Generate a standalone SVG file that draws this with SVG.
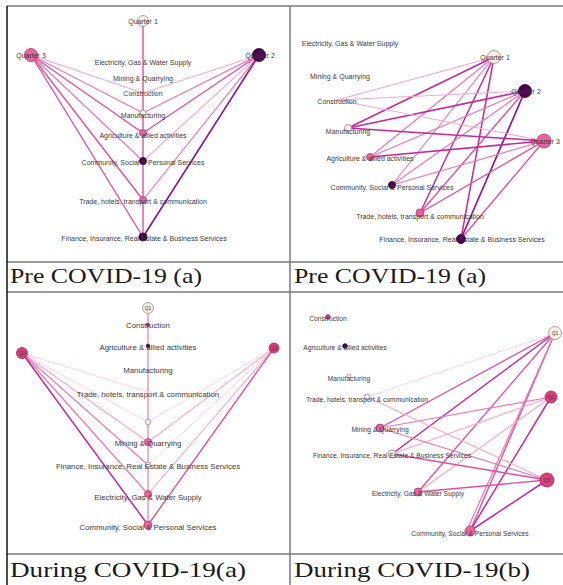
<svg xmlns="http://www.w3.org/2000/svg" width="563" height="585" viewBox="0 0 563 585">
<style>
.lbl{font-family:"Liberation Sans",Arial,sans-serif;fill:#3a3a3a;}
.p1{font-size:7px;text-anchor:middle;}
.p2{font-size:7px;text-anchor:middle;}
.p3{font-size:7.8px;text-anchor:middle;}
.p4{font-size:6.7px;text-anchor:middle;}
.q{font-size:5px;text-anchor:middle;}
.cap{font-family:"Liberation Serif","Times New Roman",serif;font-size:22px;fill:#1a1a1a;}
.e1{stroke:#fbd3e1;stroke-width:1;}
.e2{stroke:#f5a9c8;stroke-width:1.1;}
.e3{stroke:#eb78b1;stroke-width:1.2;}
.e4{stroke:#e0509c;stroke-width:1.4;}
.e5{stroke:#bf2a9f;stroke-width:1.5;}
.e6{stroke:#8a168f;stroke-width:1.7;}
.nL{fill:#fcefe7;stroke:#9a8c88;stroke-width:0.8;}
.nP{fill:#e8649d;stroke:#b03a6c;stroke-width:0.8;}
.nR{fill:#dc3f7c;stroke:#9b2552;stroke-width:0.8;}
.nD{fill:#4e004f;stroke:#2a002a;stroke-width:0.8;}
.grid{stroke:#7a7a7a;stroke-width:1.5;fill:none;}
</style>
<rect x="0" y="0" width="563" height="585" fill="#fff"/>

<!-- table grid -->
<g id="table">
<line class="grid" x1="7" y1="6" x2="563" y2="6"/>
<line class="grid" x1="7" y1="262" x2="563" y2="262"/>
<line class="grid" x1="7" y1="292" x2="563" y2="292"/>
<line class="grid" x1="7" y1="554" x2="563" y2="554"/>
<line class="grid" x1="290" y1="6" x2="290" y2="585"/>
<line x1="7" y1="6" x2="7" y2="585" stroke="#111" stroke-width="1.5"/>
</g>

<!-- ===== Panel 1 ===== -->
<g id="p1-edges" fill="none">
<line class="e4" x1="143" y1="21" x2="143" y2="237"/>
<line class="e2" x1="31" y1="55" x2="143" y2="93"/>
<line class="e3" x1="31" y1="55" x2="143" y2="113"/>
<line class="e4" x1="31" y1="55" x2="143" y2="133"/>
<line class="e3" x1="31" y1="55" x2="143" y2="161"/>
<line class="e4" x1="31" y1="55" x2="143" y2="200"/>
<line class="e4" x1="31" y1="55" x2="143" y2="237"/>
<line class="e2" x1="259" y1="55" x2="143" y2="93"/>
<line class="e3" x1="259" y1="55" x2="143" y2="113"/>
<line class="e4" x1="259" y1="55" x2="143" y2="133"/>
<line class="e2" x1="259" y1="55" x2="143" y2="161"/>
<line class="e3" x1="259" y1="55" x2="143" y2="200"/>
<line class="e6" x1="259" y1="55" x2="143" y2="237"/>
</g>
<g id="p1-q1"><circle class="nL" cx="143" cy="21" r="5.5"/><text class="lbl p1" x="143" y="23.5">Quarter 1</text></g>
<g id="p1-q3"><circle class="nP" cx="31" cy="55" r="6.5"/><text class="lbl p1" x="31" y="57.5">Quarter 3</text></g>
<g id="p1-q2"><circle class="nD" cx="259" cy="55" r="6.5"/><text class="lbl p1" x="260" y="57.5">Quarter 2</text></g>
<g id="p1-elec"><text class="lbl p1" x="143" y="64.5">Electricity, Gas &amp; Water Supply</text></g>
<g id="p1-mining"><text class="lbl p1" x="143" y="80.5">Mining &amp; Quarrying</text></g>
<g id="p1-constr"><text class="lbl p1" x="143" y="96">Construction</text></g>
<g id="p1-manuf"><circle class="nL" cx="143" cy="113" r="3"/><text class="lbl p1" x="143" y="117.5">Manufacturing</text></g>
<g id="p1-agri"><circle class="nP" cx="143" cy="133" r="3.5"/><text class="lbl p1" x="143" y="137.5">Agriculture &amp; allied activities</text></g>
<g id="p1-comm"><circle class="nD" cx="143" cy="161" r="3.5"/><text class="lbl p1" x="143" y="165">Community, Social &amp; Personal Services</text></g>
<g id="p1-trade"><circle class="nP" cx="143" cy="200" r="3.5"/><text class="lbl p1" x="143" y="203.5">Trade, hotels, transport &amp; communication</text></g>
<g id="p1-fin"><circle class="nD" cx="143" cy="237" r="4"/><text class="lbl p1" x="144" y="240.5">Finance, Insurance, Real Estate &amp; Business Services</text></g>

<!-- ===== Panel 2 ===== -->
<g id="p2-edges" fill="none">
<line class="e2" x1="494" y1="57" x2="337" y2="100"/>
<line class="e5" x1="494" y1="57" x2="348" y2="128"/>
<line class="e3" x1="494" y1="57" x2="370" y2="157"/>
<line class="e3" x1="494" y1="57" x2="392" y2="185"/>
<line class="e5" x1="494" y1="57" x2="420" y2="213"/>
<line class="e5" x1="494" y1="57" x2="461" y2="239"/>
<line class="e2" x1="525" y1="91" x2="337" y2="100"/>
<line class="e5" x1="525" y1="91" x2="348" y2="128"/>
<line class="e3" x1="525" y1="91" x2="370" y2="157"/>
<line class="e3" x1="525" y1="91" x2="392" y2="185"/>
<line class="e4" x1="525" y1="91" x2="420" y2="213"/>
<line class="e6" x1="525" y1="91" x2="461" y2="239"/>
<line class="e2" x1="544" y1="141" x2="337" y2="100"/>
<line class="e5" x1="544" y1="141" x2="348" y2="128"/>
<line class="e5" x1="544" y1="141" x2="370" y2="157"/>
<line class="e3" x1="544" y1="141" x2="392" y2="185"/>
<line class="e4" x1="544" y1="141" x2="420" y2="213"/>
<line class="e4" x1="544" y1="141" x2="461" y2="239"/>
</g>
<g id="p2-q1"><circle class="nL" cx="494" cy="57" r="6.5"/><text class="lbl p2" x="495" y="59.5">Quarter 1</text></g>
<g id="p2-q2"><circle class="nD" cx="525" cy="91" r="6.5"/><text class="lbl p2" x="526" y="93.5">Quarter 2</text></g>
<g id="p2-q3"><circle class="nP" cx="544" cy="141" r="7"/><text class="lbl p2" x="545" y="143.5">Quarter 3</text></g>
<g id="p2-elec"><text class="lbl p2" x="350" y="45.5">Electricity, Gas &amp; Water Supply</text></g>
<g id="p2-mining"><text class="lbl p2" x="340" y="78.5">Mining &amp; Quarrying</text></g>
<g id="p2-constr"><text class="lbl p2" x="337" y="104">Construction</text></g>
<g id="p2-manuf"><circle class="nL" cx="348" cy="128" r="3.5"/><text class="lbl p2" x="348" y="133.5">Manufacturing</text></g>
<g id="p2-agri"><circle class="nP" cx="370" cy="157" r="3.5"/><text class="lbl p2" x="370" y="161">Agriculture &amp; allied activities</text></g>
<g id="p2-comm"><circle class="nD" cx="392" cy="185" r="3.5"/><text class="lbl p2" x="392" y="189.5">Community, Social &amp; Personal Services</text></g>
<g id="p2-trade"><circle class="nP" cx="420" cy="213" r="4"/><text class="lbl p2" x="420" y="218.5">Trade, hotels, transport &amp; communication</text></g>
<g id="p2-fin"><circle class="nD" cx="461" cy="239" r="4.5"/><text class="lbl p2" x="462" y="242">Finance, Insurance, Real Estate &amp; Business Services</text></g>

<!-- ===== Panel 3 ===== -->
<g id="p3-edges" fill="none">
<line class="e3" x1="148" y1="308" x2="148" y2="525"/>
<line class="e1" x1="22" y1="353" x2="148" y2="392"/>
<line class="e1" x1="22" y1="353" x2="148" y2="422"/>
<line class="e2" x1="22" y1="353" x2="148" y2="442"/>
<line class="e3" x1="22" y1="353" x2="148" y2="465"/>
<line class="e3" x1="22" y1="353" x2="148" y2="494"/>
<line class="e5" x1="22" y1="353" x2="148" y2="525"/>
<line class="e1" x1="274" y1="348" x2="148" y2="422"/>
<line class="e2" x1="274" y1="348" x2="148" y2="442"/>
<line class="e1" x1="274" y1="348" x2="148" y2="465"/>
<line class="e2" x1="274" y1="348" x2="148" y2="494"/>
<line class="e4" x1="274" y1="348" x2="148" y2="525"/>
</g>
<g id="p3-q1"><circle class="nL" cx="148" cy="308" r="5.5"/><text class="lbl q" x="148" y="310">Q1</text></g>
<g id="p3-q3"><circle class="nR" cx="22" cy="353" r="5.5"/><text class="lbl q" x="22" y="355">Q3</text></g>
<g id="p3-q2"><circle class="nR" cx="274" cy="348" r="5"/><text class="lbl q" x="274" y="350">Q2</text></g>
<g id="p3-constr"><circle class="nR" cx="148" cy="325" r="1.8"/><text class="lbl p3" x="148" y="328">Construction</text></g>
<g id="p3-agri"><circle class="nD" cx="148" cy="346" r="1.8"/><text class="lbl p3" x="148" y="349.5">Agriculture &amp; allied activities</text></g>
<g id="p3-manuf"><text class="lbl p3" x="148" y="372.5">Manufacturing</text></g>
<g id="p3-trade"><text class="lbl p3" x="148" y="396.5">Trade, hotels, transport &amp; communication</text></g>
<g id="p3-n422"><circle class="nL" cx="148" cy="422" r="2.8"/></g>
<g id="p3-mining"><circle class="nP" cx="148" cy="442" r="3.5"/><text class="lbl p3" x="148" y="446">Mining &amp; Quarrying</text></g>
<g id="p3-fin"><circle class="nL" cx="148" cy="465" r="2.8"/><text class="lbl p3" x="148" y="468.5">Finance, Insurance, Real Estate &amp; Business Services</text></g>
<g id="p3-elec"><circle class="nP" cx="148" cy="494" r="3.5"/><text class="lbl p3" x="148" y="499.5">Electricity, Gas &amp; Water Supply</text></g>
<g id="p3-comm"><circle class="nP" cx="148" cy="525" r="4"/><text class="lbl p3" x="148" y="530">Community, Social &amp; Personal Services</text></g>

<!-- ===== Panel 4 ===== -->
<g id="p4-edges" fill="none">
<line class="e1" x1="555" y1="333" x2="367" y2="397"/>
<line class="e4" x1="555" y1="333" x2="380" y2="428"/>
<line class="e5" x1="555" y1="333" x2="392" y2="454"/>
<line class="e4" x1="555" y1="333" x2="418" y2="492"/>
<line class="e4" x1="555" y1="333" x2="470" y2="531"/>
<line class="e3" x1="555" y1="333" x2="467" y2="530"/>
<line class="e3" x1="551" y1="397" x2="380" y2="428"/>
<line class="e2" x1="551" y1="397" x2="392" y2="454"/>
<line class="e2" x1="551" y1="397" x2="418" y2="492"/>
<line class="e5" x1="551" y1="397" x2="470" y2="531"/>
<line class="e2" x1="547" y1="480" x2="367" y2="397"/>
<line class="e3" x1="547" y1="480" x2="380" y2="428"/>
<line class="e4" x1="547" y1="480" x2="392" y2="454"/>
<line class="e4" x1="547" y1="480" x2="418" y2="492"/>
<line class="e5" x1="547" y1="480" x2="470" y2="531"/>
</g>
<g id="p4-q1"><circle class="nL" cx="555" cy="333" r="6.5"/><text class="lbl q" x="555" y="335">Q1</text></g>
<g id="p4-q2"><circle class="nR" cx="551" cy="397" r="6"/><text class="lbl q" x="551" y="399">Q2</text></g>
<g id="p4-q3"><circle class="nR" cx="547" cy="480" r="7"/><text class="lbl q" x="547" y="482">Q3</text></g>
<g id="p4-constr"><circle class="nR" cx="328" cy="317" r="2.3"/><text class="lbl p4" x="328" y="320.5">Construction</text></g>
<g id="p4-agri"><circle class="nD" cx="345" cy="346" r="2.3"/><text class="lbl p4" x="345" y="349.5">Agriculture &amp; allied activities</text></g>
<g id="p4-manuf"><circle class="nL" cx="349" cy="376" r="2"/><text class="lbl p4" x="349" y="380.5">Manufacturing</text></g>
<g id="p4-trade"><circle class="nL" cx="367" cy="397" r="3"/><text class="lbl p4" x="367" y="401.5">Trade, hotels, transport &amp; communication</text></g>
<g id="p4-mining"><circle class="nP" cx="380" cy="428" r="4"/><text class="lbl p4" x="380" y="432">Mining &amp; Quarrying</text></g>
<g id="p4-fin"><circle class="nL" cx="392" cy="454" r="4"/><text class="lbl p4" x="392" y="457.5">Finance, Insurance, Real Estate &amp; Business Services</text></g>
<g id="p4-elec"><circle class="nP" cx="418" cy="492" r="4"/><text class="lbl p4" x="418" y="495.5">Electricity, Gas &amp; Water Supply</text></g>
<g id="p4-comm"><circle class="nP" cx="470" cy="531" r="5"/><text class="lbl p4" x="470" y="535.5">Community, Social &amp; Personal Services</text></g>

<!-- captions -->
<g id="captions">
<text class="cap" x="10" y="283" textLength="192" lengthAdjust="spacingAndGlyphs">Pre COVID-19 (a)</text>
<text class="cap" x="294" y="283" textLength="192" lengthAdjust="spacingAndGlyphs">Pre COVID-19 (a)</text>
<text class="cap" x="10" y="577" textLength="236" lengthAdjust="spacingAndGlyphs">During COVID-19(a)</text>
<text class="cap" x="294" y="577" textLength="236" lengthAdjust="spacingAndGlyphs">During COVID-19(b)</text>
</g>
</svg>
